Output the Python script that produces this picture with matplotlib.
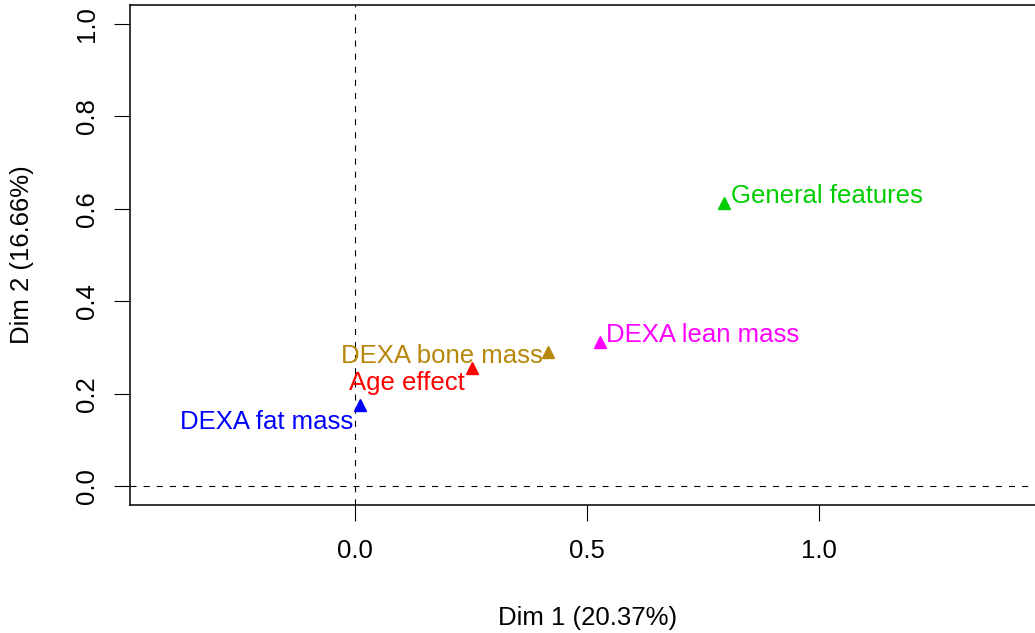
import matplotlib
matplotlib.use("Agg")
import matplotlib.pyplot as plt

# Group coordinates on the first two MFA dimensions
groups = ["General features", "DEXA lean mass", "DEXA bone mass", "Age effect", "DEXA fat mass"]
dim1 = [0.796, 0.529, 0.415, 0.252, 0.011]
dim2 = [0.613, 0.312, 0.290, 0.255, 0.175]
colors = ["#00CD00", "#FF00FF", "#B8860B", "#FF0000", "#0000FF"]

x_ticks = [0.0, 0.5, 1.0]
y_ticks = [0.0, 0.2, 0.4, 0.6, 0.8, 1.0]
x_label = "Dim 1 (20.37%)"
y_label = "Dim 2 (16.66%)"

# label placement: (dx, dy) offset in points and horizontal alignment
label_offsets = [(5.0, 0.0, "left"), (4.3, -0.4, "left"), (-3.6, -8.0, "right"),
                 (-5.0, -15.6, "right"), (-5.0, -17.4, "right")]

plt.rcParams["font.family"] = ["Liberation Sans", "DejaVu Sans"]
FS = 18.5

W, H, DPI = 1035, 633, 100
fig = plt.figure(figsize=(W / DPI, H / DPI), dpi=DPI)
left, right, top, bottom = 130, 1046, 5, 505
ax = fig.add_axes([left / W, 1 - bottom / H, (right - left) / W, (bottom - top) / H])

ax.set_xlim(-0.4849, 1.4892)
ax.set_ylim(-0.041, 1.041)

ax.axhline(0, color="black", lw=0.8, linestyle=(0, (5.5, 6.3)), zorder=1)
ax.axvline(0, color="black", lw=0.8, linestyle=(0, (5.5, 6.3)), zorder=1)

for x, y, name, c, (dx, dy, ha) in zip(dim1, dim2, groups, colors, label_offsets):
    ax.plot(x, y, marker="^", color=c, markersize=8.8, linestyle="none", zorder=3)
    ax.annotate(name, (x, y), xytext=(dx, dy), textcoords="offset points",
                ha=ha, va="baseline", color=c, fontsize=FS, zorder=4)

ax.set_xticks(x_ticks)
ax.set_xticklabels([f"{t:.1f}" for t in x_ticks])
ax.set_yticks(y_ticks)
ax.set_yticklabels([f"{t:.1f}" for t in y_ticks], rotation=90, va="center")
ax.tick_params(axis="both", direction="out", length=11.5, width=0.8, labelsize=FS)
ax.tick_params(axis="x", pad=13)
ax.tick_params(axis="y", pad=11)

for s in ax.spines.values():
    s.set_linewidth(1.1)

fig.text(588 / W, 1 - 618 / H, x_label, ha="center", va="center", fontsize=FS)
fig.text(22 / W, 1 - 255 / H, y_label, ha="center", va="center", fontsize=FS, rotation=90)

fig.savefig("out.png", dpi=DPI)
